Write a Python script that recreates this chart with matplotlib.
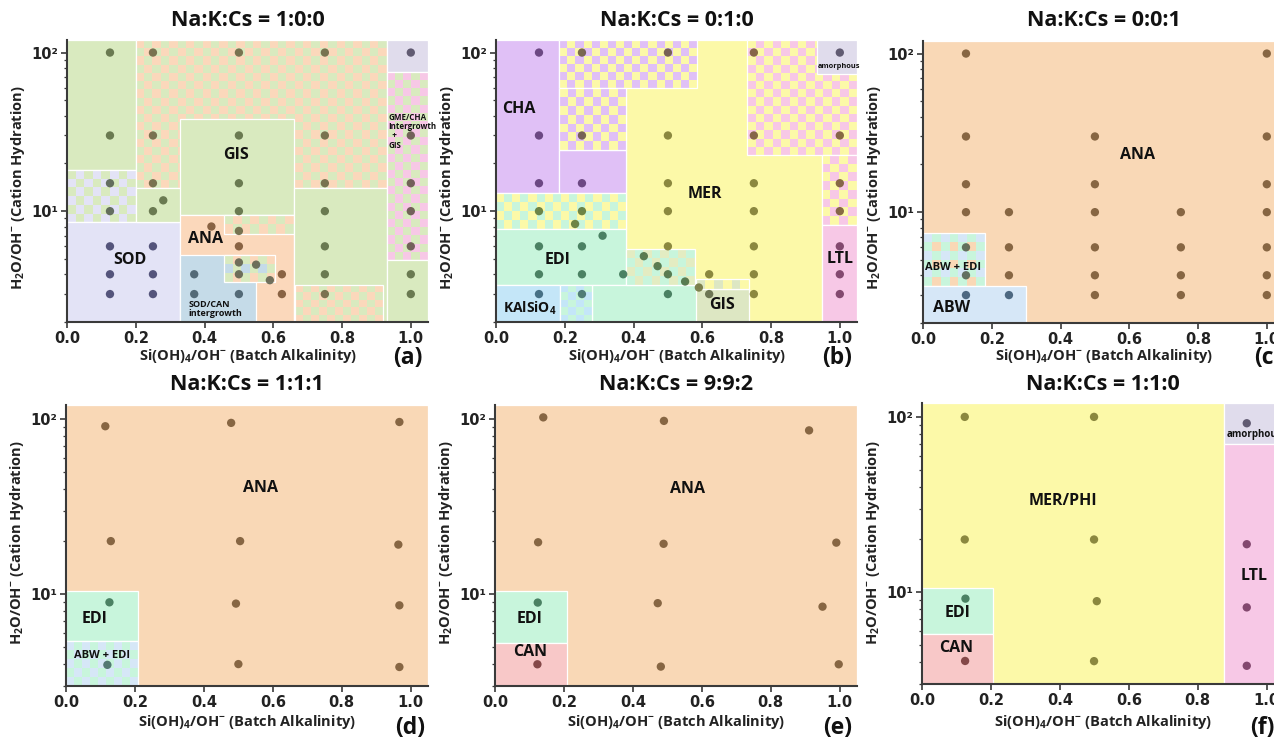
import colorsys
import numpy as np
import matplotlib
matplotlib.use('Agg')
import matplotlib.pyplot as plt
from matplotlib.patches import Rectangle
from matplotlib.colors import ListedColormap, to_rgb
from matplotlib.ticker import FixedLocator, FixedFormatter, NullFormatter

FONT = 'Open Sans'
plt.rcParams['mathtext.fontset'] = 'custom'
plt.rcParams['mathtext.rm'] = 'Open Sans:bold'
plt.rcParams['mathtext.it'] = 'Open Sans:bold'
plt.rcParams['mathtext.bf'] = 'Open Sans:bold'
plt.rcParams['mathtext.default'] = 'rm'

# ---------------- data ----------------
titles = ['Na:K:Cs = 1:0:0', 'Na:K:Cs = 0:1:0', 'Na:K:Cs = 0:0:1',
          'Na:K:Cs = 1:1:1', 'Na:K:Cs = 9:9:2', 'Na:K:Cs = 1:1:0']
letters = ['(a)', '(b)', '(c)', '(d)', '(e)', '(f)']
xlabel = 'Si(OH)$_4$/OH$^{-}$ (Batch Alkalinity)'
ylabel = 'H$_2$O/OH$^{-}$ (Cation Hydration)'
x_ticks = [0.0, 0.2, 0.4, 0.6, 0.8, 1.0]
x_tick_labels = ['0.0', '0.2', '0.4', '0.6', '0.8', '1.0']
y_major = [10, 100]
y_major_labels = ['10\u00b9', '10\u00b2']

# experimental points per panel
a_x = [0.125]*7 + [0.25]*7 + [0.28, 0.37, 0.37, 0.42] + [0.5]*9 + [0.55, 0.59, 0.625, 0.625] + [0.75]*7 + [1.0]*7
a_y = [100, 30, 15, 10, 6, 4, 3] + [100, 30, 15, 10, 6, 4, 3] + [11.7, 4, 3, 8] + \
      [100, 30, 15, 10, 7.5, 6, 4.75, 4, 3] + [4.6, 3.67, 4, 3] + [100, 30, 15, 10, 6, 4, 3] + [100, 30, 15, 10, 6, 4, 3]

b_x = [0.125]*7 + [0.25]*7 + [0.23, 0.31, 0.37, 0.43, 0.47] + [0.5]*7 + [0.55, 0.59, 0.62, 0.62] + [0.75]*7 + [1.0]*7
b_y = [100, 30, 15, 10, 6, 4, 3] + [100, 30, 15, 10, 6, 4, 3] + [8.3, 7.0, 4, 5.2, 4.5] + \
      [100, 30, 15, 10, 6, 4, 3] + [3.6, 3.3, 4, 3] + [100, 30, 15, 10, 6, 4, 3] + [100, 30, 15, 10, 6, 4, 3]

c_x = [0.125]*7 + [0.25]*4 + [0.5]*6 + [0.75]*4 + [1.0]*7
c_y = [100, 30, 15, 10, 6, 4, 3] + [10, 6, 4, 3] + [30, 15, 10, 6, 4, 3] + [10, 6, 4, 3] + [100, 30, 15, 10, 6, 4, 3]

d_x = [0.114, 0.479, 0.967, 0.13, 0.505, 0.964, 0.126, 0.493, 0.967, 0.12, 0.5, 0.967]
d_y = [90.8, 94.9, 96, 20.1, 20.1, 19.2, 9.0, 8.85, 8.65, 3.96, 4.0, 3.85]

e_x = [0.14, 0.49, 0.911, 0.125, 0.489, 0.99, 0.124, 0.472, 0.95, 0.123, 0.481, 0.997]
e_y = [102, 97.4, 86, 19.8, 19.4, 19.7, 8.97, 8.9, 8.5, 3.99, 3.87, 3.99]

f_x = [0.124, 0.499, 0.942, 0.124, 0.499, 0.942, 0.126, 0.507, 0.942, 0.125, 0.499, 0.942]
f_y = [100, 100, 92, 20, 20, 18.8, 9.2, 8.9, 8.2, 4.06, 4.05, 3.81]

# phase regions: (x0, x1, y0, y1, phase)
a_regions = [
    (0.0, 0.2, 18.2, 120, 'GIS'),
    (0.0, 0.2, 8.5, 18.2, 'SOD+GIS'),
    (0.0, 0.33, 2, 8.5, 'SOD'),
    (0.2, 0.93, 14, 120, 'GIS+ANA'),
    (0.2, 0.66, 8.5, 14, 'GIS'),
    (0.33, 0.66, 9.5, 38, 'GIS'),
    (0.33, 0.66, 2, 9.5, 'ANA'),
    (0.457, 0.66, 7.2, 9.5, 'ANA+GIS'),
    (0.33, 0.55, 2, 5.3, 'SOD/CAN'),
    (0.457, 0.606, 3.6, 5.3, 'ANA+GIS+SOD/CAN'),
    (0.66, 0.93, 2, 14, 'GIS'),
    (0.664, 0.92, 2, 3.44, 'ANA+GIS'),
    (0.93, 1.05, 75.5, 120, 'amorphous'),
    (0.93, 1.05, 4.93, 75.5, 'GME+GIS'),
    (0.93, 1.05, 2, 4.93, 'GIS'),
]
b_regions = [
    (0.378, 0.947, 2, 120, 'MER'),
    (0.0, 0.184, 13, 120, 'CHA'),
    (0.184, 0.378, 13, 24.3, 'CHA'),
    (0.184, 0.585, 59.4, 120, 'CHA+MER'),
    (0.184, 0.378, 24.3, 59.4, 'CHA+MER'),
    (0.731, 1.05, 22.6, 120, 'LTL+MER'),
    (0.935, 1.05, 73, 120, 'amorphous'),
    (0.947, 1.05, 8.2, 22.6, 'LTL+MER'),
    (0.947, 1.05, 2, 8.2, 'LTL'),
    (0.0, 0.378, 7.75, 13, 'EDI+MER'),
    (0.0, 0.378, 3.44, 7.75, 'EDI'),
    (0.28, 0.585, 2, 3.44, 'EDI'),
    (0.378, 0.578, 3.44, 5.8, 'EDI+GISb'),
    (0.0, 0.186, 2, 3.44, 'KAlSiO4'),
    (0.186, 0.28, 2, 3.44, 'KAlSiO4+EDI'),
    (0.583, 0.736, 2, 3.21, 'GISb'),
    (0.583, 0.736, 3.21, 3.71, 'GISb+MER'),
]
c_regions = [
    (0.0, 1.05, 2, 120, 'ANAc'),
    (0.0, 0.18, 3.41, 7.4, 'ABW+EDI+ANA'),
    (0.0, 0.299, 2, 3.41, 'ABW'),
]
d_regions = [
    (0.0, 1.05, 3, 120, 'ANAc'),
    (0.0, 0.208, 5.43, 10.4, 'EDI'),
    (0.0, 0.208, 3, 5.43, 'ABW+EDI'),
]
e_regions = [
    (0.0, 1.05, 3, 120, 'ANAc'),
    (0.0, 0.209, 5.3, 10.4, 'EDI'),
    (0.0, 0.209, 3, 5.3, 'CAN'),
]
f_regions = [
    (0.0, 0.877, 3, 120, 'MER'),
    (0.877, 1.05, 70, 120, 'amorphous'),
    (0.877, 1.05, 3, 70, 'LTL'),
    (0.0, 0.206, 5.75, 10.6, 'EDI'),
    (0.0, 0.206, 3, 5.75, 'CAN'),
]

# labels: (x, y, text, size, ha)
a_labels = [(0.184, 4.93, 'SOD', 11.5, 'center'), (0.404, 6.7, 'ANA', 11.5, 'center'),
            (0.492, 22.5, 'GIS', 11.5, 'center'),
            (0.354, 2.42, 'SOD/CAN\nintergrowth', 6.5, 'left'),
            (0.935, 32, 'GME/CHA\nIntergrowth\n  +\nGIS', 5.8, 'left')]
b_labels = [(0.066, 44, 'CHA', 11.5, 'center'), (0.607, 12.9, 'MER', 11.5, 'center'),
            (0.18, 4.94, 'EDI', 11.5, 'center'), (0.098, 2.45, 'KAlSiO$_4$', 10, 'center'),
            (0.657, 2.55, 'GIS', 11.5, 'center'), (1.0, 5.0, 'LTL', 11.5, 'center'),
            (0.997, 81.6, 'amorphous', 5.3, 'center')]
c_labels = [(0.623, 23, 'ANA', 11.5, 'center'), (0.088, 4.45, 'ABW + EDI', 8, 'center'),
            (0.083, 2.49, 'ABW', 11.5, 'center')]
d_labels = [(0.565, 40.4, 'ANA', 11.5, 'center'), (0.082, 7.2, 'EDI', 11.5, 'center'),
            (0.104, 4.5, 'ABW + EDI', 8, 'center')]
e_labels = [(0.557, 40, 'ANA', 11.5, 'center'), (0.101, 7.2, 'EDI', 11.5, 'center'),
            (0.101, 4.66, 'CAN', 11.5, 'center')]
f_labels = [(0.408, 33, 'MER/PHI', 11.5, 'center'), (0.102, 7.6, 'EDI', 11.5, 'center'),
            (0.1, 4.84, 'CAN', 11.5, 'center'), (0.962, 12.4, 'LTL', 11.5, 'center'),
            (0.885, 79.8, 'amorphous', 7, 'left')]

# ---------------- styles ----------------
C_GREEN = '#d9eabf'
C_ORANGE = '#fbd8bb'
C_LAV = '#e3e3f6'
C_SODCAN = '#c5dbe8'
C_AMOR = '#e0dcec'
C_PINK = '#f7c8e6'
C_PURPLE = '#e0c0f6'
C_YELLOW = '#fcf9a8'
C_MINT = '#c8f5dc'
C_KAL = '#c4e6f8'
C_GISB = '#dde7c3'
C_KHAKI = '#e3ecc2'
C_ANAC = '#f9d8b6'
C_ABW = '#d6e7f7'
C_CAN = '#f8c8c8'

phase_style = {
    'GIS': C_GREEN, 'SOD': C_LAV, 'ANA': C_ORANGE, 'SOD/CAN': C_SODCAN,
    'amorphous': C_AMOR, 'MER': C_YELLOW, 'CHA': C_PURPLE, 'LTL': C_PINK,
    'EDI': C_MINT, 'KAlSiO4': C_KAL, 'GISb': C_GISB, 'ANAc': C_ANAC,
    'ABW': C_ABW, 'CAN': C_CAN,
    'SOD+GIS': (C_LAV, C_GREEN),
    'GIS+ANA': (C_GREEN, C_ORANGE),
    'ANA+GIS': (C_ORANGE, C_GREEN),
    'ANA+GIS+SOD/CAN': (C_GREEN, C_ORANGE, C_SODCAN),
    'GME+GIS': (C_PINK, C_GREEN),
    'CHA+MER': (C_YELLOW, C_PURPLE),
    'LTL+MER': (C_PINK, C_YELLOW),
    'EDI+MER': (C_MINT, C_YELLOW),
    'EDI+GISb': (C_MINT, C_KHAKI),
    'KAlSiO4+EDI': (C_KAL, C_MINT),
    'GISb+MER': (C_GISB, C_YELLOW),
    'ABW+EDI+ANA': (C_MINT, C_ANAC, C_ABW),
    'ABW+EDI': (C_ABW, C_MINT),
}

W, H = 1274, 738
XMAX = 1.05
CELL = 8.3

panels = [
    dict(x=a_x, y=a_y, regions=a_regions, labels=a_labels, ylim=(2, 120), box=(67, 40, 361, 282)),
    dict(x=b_x, y=b_y, regions=b_regions, labels=b_labels, ylim=(2, 120), box=(496, 40, 361, 282)),
    dict(x=c_x, y=c_y, regions=c_regions, labels=c_labels, ylim=(2, 120), box=(923, 41, 361, 282)),
    dict(x=d_x, y=d_y, regions=d_regions, labels=d_labels, ylim=(3, 120), box=(66, 405, 362, 281)),
    dict(x=e_x, y=e_y, regions=e_regions, labels=e_labels, ylim=(3, 120), box=(495, 405, 362, 281)),
    dict(x=f_x, y=f_y, regions=f_regions, labels=f_labels, ylim=(3, 120), box=(922, 403, 362, 281)),
]
letter_pos = [(408, 358), (837, 358), (1268, 358), (410, 728), (838, 728), (1262, 728)]

fig = plt.figure(figsize=(W/100, H/100), dpi=100)
fig.patch.set_facecolor('white')


def draw_checker(ax, x0, x1, y0, y1, cols, ylim, wpx, hpx, z):
    w = (x1 - x0) / XMAX * wpx
    h = (np.log10(y1) - np.log10(y0)) / (np.log10(ylim[1]) - np.log10(ylim[0])) * hpx
    nx = max(1, int(round(w / CELL)))
    ny = max(1, int(round(h / CELL)))
    X = np.linspace(x0, x1, nx + 1)
    Y = np.geomspace(y0, y1, ny + 1)
    I, J = np.meshgrid(np.arange(nx), np.arange(ny))
    if len(cols) == 2:
        Cv = (I + J) % 2
    else:
        Cv = np.where((I + J) % 2 == 0, 0, 1 + (J % 2))
    ax.pcolormesh(X, Y, Cv, cmap=ListedColormap(list(cols)), vmin=-0.5, vmax=len(cols) - 0.5,
                  shading='flat', edgecolors='none', antialiased=False, zorder=z)


def dot_color(px, py, regions):
    """Darkened tone of the phase under a point (emulates a translucent dark dot)."""
    bg = (0.9, 0.9, 0.9)
    for (x0, x1, y0, y1, ph) in reversed(regions):
        if x0 <= px <= x1 and y0 <= py <= y1:
            st = phase_style[ph]
            if isinstance(st, tuple):
                bg = tuple(np.mean([to_rgb(c) for c in st], axis=0))
            else:
                bg = to_rgb(st)
            break
    h, l, s = colorsys.rgb_to_hls(*bg)
    return colorsys.hls_to_rgb(h, 0.35, min(1.0, 0.45 * s))


for k, p in enumerate(panels):
    L, T, Wd, Ht = p['box']
    ax = fig.add_axes([L / W, 1 - (T + Ht) / H, Wd / W, Ht / H])
    ax.set_yscale('log')
    ax.set_xlim(0, XMAX)
    ax.set_ylim(*p['ylim'])
    ylo, yhi = p['ylim']
    for i, (x0, x1, y0, y1, ph) in enumerate(p['regions']):
        st = phase_style[ph]
        z = 1 + i * 0.01
        y0c = max(y0, ylo)
        y1c = min(y1, yhi)
        if isinstance(st, tuple):
            draw_checker(ax, x0, x1, y0c, y1c, st, p['ylim'], Wd, Ht, z)
            ax.add_patch(Rectangle((x0, y0c), x1 - x0, y1c - y0c, facecolor='none',
                                   edgecolor='white', lw=0.9, zorder=z + 0.005))
        else:
            ax.add_patch(Rectangle((x0, y0c), x1 - x0, y1c - y0c, facecolor=st,
                                   edgecolor='white', lw=0.9, zorder=z))
    cols = [dot_color(px, py, p['regions']) for px, py in zip(p['x'], p['y'])]
    ax.scatter(p['x'], p['y'], s=36, c=cols, alpha=0.9, linewidths=0, zorder=5)
    for (tx, ty, txt, fs, ha) in p['labels']:
        ax.text(tx, ty, txt, fontsize=fs, ha=ha, va='center', family=FONT, weight='bold',
                color='#111111', zorder=6, linespacing=1.05)

    for s in ['top', 'right']:
        ax.spines[s].set_visible(False)
    for s in ['left', 'bottom']:
        ax.spines[s].set_color('#3a3a3a')
        ax.spines[s].set_linewidth(1.5)
        ax.spines[s].set_zorder(7)
    ax.xaxis.set_major_locator(FixedLocator(x_ticks))
    ax.xaxis.set_major_formatter(FixedFormatter(x_tick_labels))
    ax.yaxis.set_major_locator(FixedLocator(y_major))
    ax.yaxis.set_major_formatter(FixedFormatter(y_major_labels))
    minors = [m * d for d in (1, 10) for m in range(2, 10) if ylo <= m * d <= yhi]
    ax.yaxis.set_minor_locator(FixedLocator(minors))
    ax.yaxis.set_minor_formatter(NullFormatter())
    ax.tick_params(axis='both', which='major', length=4.5, width=1.2, color='#3a3a3a',
                   labelsize=10.5, pad=2)
    ax.tick_params(axis='y', which='minor', length=2.5, width=0.9, color='#3a3a3a')
    for lab in ax.get_xticklabels() + ax.get_yticklabels():
        lab.set_family('DejaVu Sans')
        lab.set_weight('bold')
        lab.set_color('#222222')

    cx = L + 181
    ty_title = 20 if T < 200 else 385
    fig.text(cx / W, 1 - ty_title / H, titles[k], ha='center', va='center',
             fontsize=15.5, family=FONT, weight='bold', color='#111111')
    ty_xl = 356 if T < 200 else 722
    fig.text(cx / W, 1 - ty_xl / H, xlabel, ha='center', va='center',
             fontsize=10.5, family=FONT, weight='bold', color='#222222')
    ty_yl = 188 if T < 200 else 543
    fig.text((L - 49) / W, 1 - ty_yl / H, ylabel, ha='center', va='center', rotation=90,
             fontsize=10.5, family=FONT, weight='bold', color='#222222')
    lx, ly = letter_pos[k]
    fig.text(lx / W, 1 - ly / H, letters[k], ha='center', va='center',
             fontsize=16.5, family=FONT, weight='bold', color='#111111')

fig.savefig('out.png', dpi=100)
